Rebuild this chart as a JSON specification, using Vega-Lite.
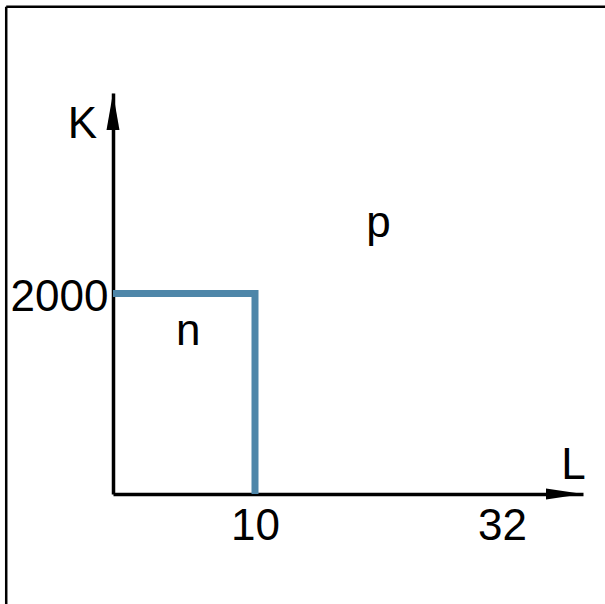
{
  "$schema": "https://vega.github.io/schema/vega-lite/v6.json",
  "width": 470,
  "height": 401,
  "autosize": "none",
  "padding": {"left": 113, "top": 93, "right": 22, "bottom": 110},
  "background": "white",
  "config": {"view": {"stroke": null}, "font": "Liberation Sans"},
  "datasets": {
    "boundary": [
      {"L": 0, "K": 2000, "o": 0},
      {"L": 10, "K": 2000, "o": 1},
      {"L": 10, "K": 0, "o": 2}
    ],
    "labels": [
      {"L": 5.3, "K": 1486, "t": "n"},
      {"L": 21, "K": 2564, "t": "p"}
    ],
    "arrowUp": [{"L": 0, "K": 4000}],
    "arrowRight": [{"L": 35, "K": 0}],
    "frame": [{}]
  },
  "layer": [
    {
      "data": {"name": "boundary"},
      "mark": {"type": "line", "color": "#4e86a9", "strokeWidth": 7, "strokeCap": "butt", "strokeJoin": "miter"},
      "encoding": {
        "x": {
          "field": "L", "type": "quantitative",
          "scale": {"domain": [0, 10, 32, 35], "range": [0, 142, 389, 470], "nice": false, "zero": false},
          "axis": {
            "values": [10, 32], "format": "d", "title": "L", "grid": false, "ticks": false, "tickSize": 0,
            "domainColor": "black", "domainWidth": 3.5,
            "labelFontSize": 44, "labelColor": "black", "labelPadding": 10, "labelFlush": false, "labelOverlap": false,
            "titleFontSize": 44, "titleFontWeight": "normal", "titleColor": "black", "titleAngle": 0,
            "titleX": 460, "titleY": -16, "titleBaseline": "alphabetic", "titleAlign": "center"
          }
        },
        "y": {
          "field": "K", "type": "quantitative",
          "scale": {"domain": [0, 4000], "nice": false, "zero": false},
          "axis": {
            "values": [2000], "format": "d", "title": "K", "grid": false, "ticks": false, "tickSize": 0,
            "domainColor": "black", "domainWidth": 3.5,
            "labelFontSize": 44, "labelColor": "black", "labelPadding": 5, "labelOffset": 4, "labelFlush": false, "labelOverlap": false,
            "titleFontSize": 44, "titleFontWeight": "normal", "titleColor": "black", "titleAngle": 0,
            "titleX": -31, "titleY": 44, "titleBaseline": "alphabetic", "titleAlign": "center"
          }
        },
        "order": {"field": "o", "type": "quantitative"}
      }
    },
    {
      "data": {"name": "arrowUp"},
      "mark": {"type": "point", "filled": true, "color": "black", "opacity": 1, "strokeWidth": 0, "shape": "M0,0L-0.35,2L0.35,2Z", "size": 1369},
      "encoding": {
        "x": {"field": "L", "type": "quantitative"},
        "y": {"field": "K", "type": "quantitative"}
      }
    },
    {
      "data": {"name": "arrowRight"},
      "mark": {"type": "point", "filled": true, "color": "black", "opacity": 1, "strokeWidth": 0, "shape": "M0,0L-2,-0.3L-2,0.3Z", "size": 1369},
      "encoding": {
        "x": {"field": "L", "type": "quantitative"},
        "y": {"field": "K", "type": "quantitative"}
      }
    },
    {
      "data": {"name": "labels"},
      "mark": {"type": "text", "fontSize": 44, "color": "black", "align": "center", "baseline": "alphabetic", "font": "Liberation Sans"},
      "encoding": {
        "x": {"field": "L", "type": "quantitative"},
        "y": {"field": "K", "type": "quantitative"},
        "text": {"field": "t"}
      }
    },
    {
      "data": {"name": "frame"},
      "mark": {"type": "rule", "color": "black", "strokeWidth": 2.5, "clip": false},
      "encoding": {
        "x": {"datum": -7.52, "type": "quantitative"},
        "y": {"datum": 4860, "type": "quantitative"},
        "y2": {"datum": -1300}
      }
    },
    {
      "data": {"name": "frame"},
      "mark": {"type": "rule", "color": "black", "strokeWidth": 2.5, "clip": false},
      "encoding": {
        "x": {"datum": -7.52, "type": "quantitative"},
        "x2": {"datum": 38},
        "y": {"datum": 4860, "type": "quantitative"}
      }
    }
  ]
}
